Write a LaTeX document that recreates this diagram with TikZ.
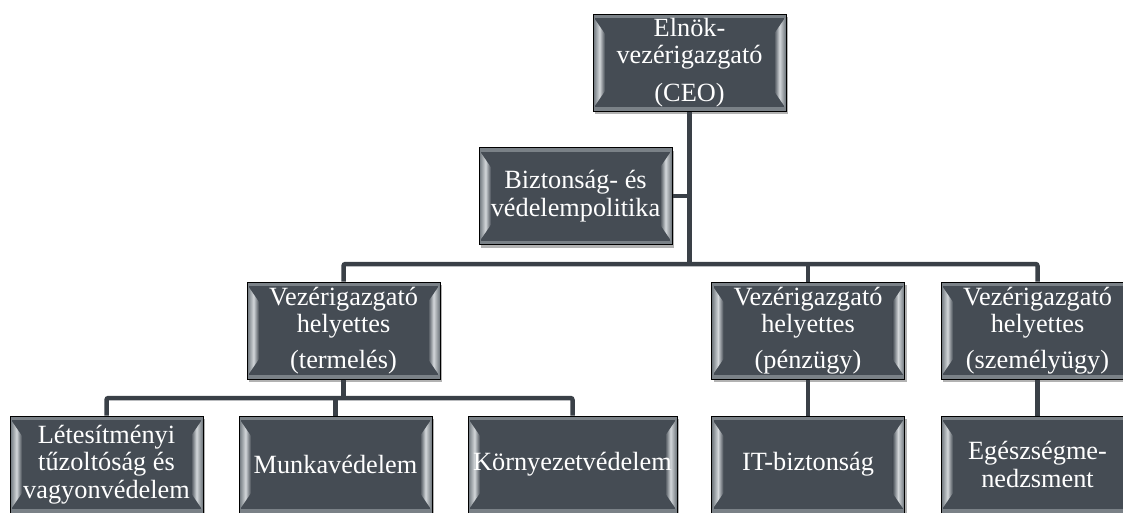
\documentclass[tikz,border=0pt]{standalone}
\usepackage{fontspec}
\setmainfont{Liberation Serif}
\usepackage{tikz}
\usetikzlibrary{shadows}

\definecolor{boxface}{HTML}{454C54}
\definecolor{boxrim}{HTML}{7A8187}
\definecolor{boxshine}{HTML}{D3D7DA}
\definecolor{linkgray}{HTML}{3A4047}

% bevelled face of a box, drawn inside its path
\newcommand\bevelface{%
  \coordinate (bl) at (path picture bounding box.south west);
  \coordinate (tr) at (path picture bounding box.north east);
  \fill[boxrim] (bl) rectangle (tr);
  \fill[boxface] ([shift={(2pt,4pt)}]bl) rectangle ([shift={(-2pt,-4pt)}]tr);
  \shade[left color=boxrim,right color=boxface,middle color=boxshine]
    ([shift={(1pt,4pt)}]bl) -- ([shift={(12pt,20pt)}]bl) -- ([shift={(12pt,-20pt)}]bl |- tr)
    -- ([shift={(1pt,-4pt)}]bl |- tr) -- cycle;
  \shade[left color=boxface,right color=boxrim,middle color=boxshine]
    ([shift={(-1pt,4pt)}]tr |- bl) -- ([shift={(-12pt,20pt)}]tr |- bl) -- ([shift={(-12pt,-20pt)}]tr)
    -- ([shift={(-1pt,-4pt)}]tr) -- cycle;
}

\begin{document}
\begin{tikzpicture}[x=1pt,y=-1pt,
    orgbox/.style={draw=black,line width=1pt,minimum width=193pt,minimum height=97pt,
      inner sep=0pt,align=center,text=white,font=\fontsize{26.3}{27.3}\selectfont,
      drop shadow={shadow xshift=2pt,shadow yshift=-3pt,opacity=.3,fill=black},
      path picture={\bevelface}},
    link/.style={draw=linkgray,line width=4.5pt,rounded corners=2pt}]
  \useasboundingbox[fill=white] (0,0) rectangle (1123,512);

  % top of the chart
  \node[orgbox] (ceo) at (689.5,62.5) {Elnök-\\vezérigazgató\\[10pt](CEO)};
  \node[orgbox] (policy) at (575.5,196) {Biztonság- és\\védelempolitika};

  % deputies
  \node[orgbox] (termeles) at (343.5,330.5) {Vezérigazgató\\helyettes\\[8pt](termelés)};
  \node[orgbox] (penzugy) at (808,330.5) {Vezérigazgató\\helyettes\\[8pt](pénzügy)};
  \node[orgbox] (szemely) at (1037.5,330.5) {Vezérigazgató\\helyettes\\[8pt](személyügy)};

  % units
  \node[orgbox] (letesitmeny) at (106.5,464.5) {Létesítményi\\tűzoltóság és\\vagyonvédelem};
  \node[orgbox] (munka) at (335.5,464.5) {Munkavédelem};
  \node[orgbox,minimum width=209pt] (kornyezet) at (572.5,464.5) {Környezetvédelem};
  \node[orgbox] (itbizt) at (808,464.5) {IT-biztonság};
  \node[orgbox] (egeszseg) at (1037.5,464.5) {Egészségme-\\nedzsment};

  % connectors
  \coordinate (ceojoin) at (ceo.south |- 0,264);
  \coordinate (termjoin) at (termeles.south |- 0,398);
  \draw[link] (ceo.south) -- (ceojoin);
  \draw[link] (policy.east) -- (policy.east -| ceojoin);
  \draw[link] (termeles.north) |- (ceojoin) -| (szemely.north);
  \draw[link] (penzugy.north) -- (penzugy.north |- ceojoin);
  \draw[link] (termeles.south) -- (termjoin);
  \draw[link] (letesitmeny.north) |- (termjoin) -| (kornyezet.north);
  \draw[link] (munka.north) -- (munka.north |- termjoin);
  \draw[link] (penzugy.south) -- (itbizt.north);
  \draw[link] (szemely.south) -- (egeszseg.north);
\end{tikzpicture}
\end{document}
